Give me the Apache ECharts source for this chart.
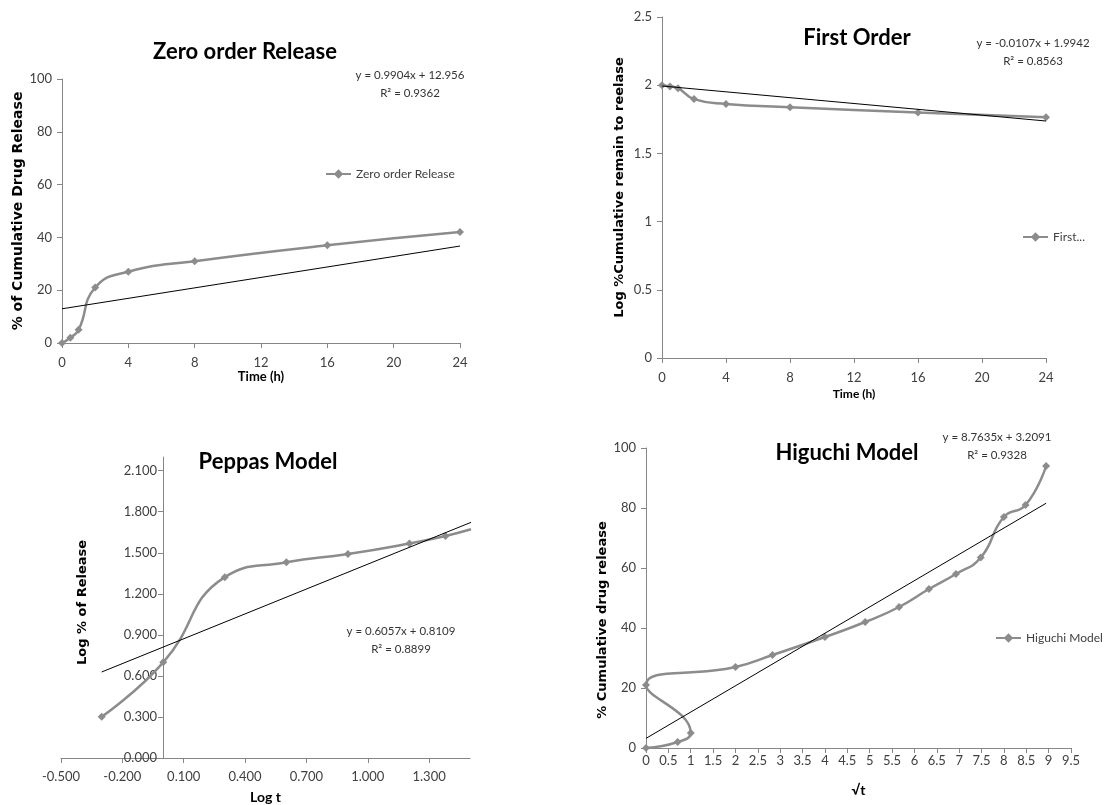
<!DOCTYPE html>
<html>
<head>
<meta charset="utf-8">
<script src="https://cdn.jsdelivr.net/npm/echarts@6/dist/echarts.min.js"></script>
<style>
html,body{margin:0;padding:0;background:#fff;}
#chart{width:1109px;height:805px;}
</style>
</head>
<body>
<div id="chart"></div>
<script>
// ---- Zero order release ----
const zeroTime = [0, 0.5, 1, 2, 4, 8, 16, 24];
const zeroRelease = [0, 2, 5, 21, 27, 31, 37, 42];
const zeroTrendX = [0, 24];
const zeroTrendY = [12.956, 36.726];
const zeroEq = ['y = 0.9904x + 12.956', 'R² = 0.9362'];

// ---- First order ----
const firstTime = [0, 0.5, 1, 2, 4, 8, 16, 24];
const firstLogRemain = [2.0, 1.991, 1.978, 1.898, 1.863, 1.839, 1.799, 1.765];
const firstTrendX = [0, 24];
const firstTrendY = [1.9942, 1.7374];
const firstEq = ['y = -0.0107x + 1.9942', 'R² = 0.8563'];

// ---- Peppas model ----
const peppasLogT = [-0.301, 0, 0.301, 0.602, 0.903, 1.204, 1.380, 1.505];
const peppasLogRelease = [0.301, 0.699, 1.322, 1.431, 1.491, 1.568, 1.623, 1.672];
const peppasTrendX = [-0.301, 1.505];
const peppasTrendY = [0.6286, 1.7225];
const peppasXTicks = [-0.5, -0.2, 0.1, 0.4, 0.7, 1.0, 1.3];
const peppasYTicks = [0, 0.3, 0.6, 0.9, 1.2, 1.5, 1.8, 2.1];
const peppasEq = ['y = 0.6057x + 0.8109', 'R² = 0.8899'];

// ---- Higuchi model ----
const higuchiSqrtT = [0, 0.707, 1, 0, 2, 2.828, 4, 4.899, 5.657, 6.325, 6.928, 7.483, 8, 8.485, 8.944];
const higuchiRelease = [0, 2, 5, 21, 27, 31, 37, 42, 47, 53, 58, 63.5, 77, 81, 94];
const higuchiTrendX = [0, 8.944];
const higuchiTrendY = [3.209, 81.59];
const higuchiEq = ['y = 8.7635x + 3.2091', 'R² = 0.9328'];

const FONT = 'Lato, "Open Sans", sans-serif';
const NAMEFONT = '"DejaVu Sans", Verdana, sans-serif';
const GREY = '#8c8c8c';
const AXIS = '#868686';
const LABEL = '#404040';

function pairs(xs, ys){ return xs.map((x,i)=>[x, ys[i]]); }

function label(extra){
  return Object.assign({color:LABEL, fontSize:13, fontFamily:FONT, margin:10}, extra);
}
function nameStyle(size, extra){
  return Object.assign({fontFamily:NAMEFONT, fontWeight:'bold', fontSize:size, color:'#000'}, extra);
}
function xNameStyle(size){
  return {fontFamily:FONT, fontWeight:'bold', fontSize:size, color:'#000'};
}
function axisBase(extra){
  return Object.assign({
    type: 'value',
    splitLine: {show:false},
    axisLine: {show:true, onZero:false, lineStyle:{color:AXIS, width:1}},
    axisTick: {show:true, length:5, lineStyle:{color:AXIS}},
    axisLabel: label({}),
    nameLocation: 'middle'
  }, extra);
}

function mainSeries(name, idx, data){
  return {
    name: name, type:'line', xAxisIndex: idx, yAxisIndex: idx,
    data: data, smooth: 0.5, symbol:'diamond', symbolSize:8,
    lineStyle:{color:GREY, width:2.5}, itemStyle:{color:GREY},
    clip: true, z: 2
  };
}
function trendSeries(idx, data){
  return {
    name: 'trend' + idx, type:'line', xAxisIndex: idx, yAxisIndex: idx,
    data: data, symbol:'none', lineStyle:{color:'#000', width:1},
    itemStyle:{color:'#000'}, clip:true, z: 3, silent:true
  };
}
function txt(x, y, s, size, bold){
  return {type:'text', x:x, y:y, silent:true,
    style:{text:s, fontFamily:FONT, fontSize:size, fontWeight: bold ? 'bold':'normal',
      fill: bold ? '#000' : '#333', align:'center', verticalAlign:'middle'}};
}

const chart = echarts.init(document.getElementById('chart'));
chart.setOption({
  animation: false,
  backgroundColor: '#fff',
  grid: [
    {left:62, top:79, width:398, height:264, outerBoundsMode:'none', containLabel:false},
    {left:662, top:17, width:384, height:341, outerBoundsMode:'none', containLabel:false},
    {left:61, top:457, width:409, height:301, outerBoundsMode:'none', containLabel:false},
    {left:646, top:448, width:425, height:300, outerBoundsMode:'none', containLabel:false}
  ],
  xAxis: [
    axisBase({gridIndex:0, min:0, max:24, interval:4, name:'Time (h)', nameGap:27,
      axisLabel: label({margin:13}), nameTextStyle: xNameStyle(13)}),
    axisBase({gridIndex:1, min:0, max:24, interval:4, name:'Time (h)', nameGap:30,
      axisLabel: label({margin:13}), nameTextStyle: xNameStyle(12)}),
    axisBase({gridIndex:2, min:-0.5, max:1.5, name:'Log t', nameGap:32,
      axisTick:{show:true, length:5, lineStyle:{color:AXIS}, customValues: peppasXTicks},
      axisLabel: label({margin:12, customValues: peppasXTicks, formatter: v => v.toFixed(3)}),
      nameTextStyle: xNameStyle(14)}),
    axisBase({gridIndex:3, min:0, max:9.5, interval:0.5, name:'√t', nameGap:35,
      axisLabel: label({margin:6}), nameTextStyle: xNameStyle(14)})
  ],
  yAxis: [
    axisBase({gridIndex:0, min:0, max:100, interval:20, name:'% of Cumulative Drug Release', nameGap:35,
      nameTextStyle: nameStyle(14)}),
    axisBase({gridIndex:1, min:0, max:2.5, interval:0.5, name:'Log %Cumulative remain to reelase', nameGap:36,
      nameTextStyle: nameStyle(13)}),
    axisBase({gridIndex:2, min:0, max:2.2, name:'Log % of Release', nameGap:74, offset:-102,
      axisTick:{show:true, length:5, lineStyle:{color:AXIS}, customValues: peppasYTicks},
      axisLabel: label({margin:6, customValues: peppasYTicks, formatter: v => v.toFixed(3)}),
      nameTextStyle: nameStyle(13, {padding:[0,0,0,10]})}),
    axisBase({gridIndex:3, min:0, max:100, interval:20, name:'% Cumulative drug release', nameGap:36,
      nameTextStyle: nameStyle(13, {padding:[0,44,0,0]})})
  ],
  legend: [
    {data:['Zero order Release'], left:325, top:168, padding:0, itemWidth:25, itemHeight:12, itemGap:4,
      textStyle:{fontFamily:FONT, fontSize:12, color:LABEL}, selectedMode:false},
    {data:['First Order'], left:1022, top:231, padding:0, itemWidth:25, itemHeight:12, itemGap:4,
      formatter: () => 'First...', textStyle:{fontFamily:FONT, fontSize:12, color:LABEL}, selectedMode:false},
    {data:['Higuchi Model'], left:995, top:632, padding:0, itemWidth:25, itemHeight:12, itemGap:4,
      textStyle:{fontFamily:FONT, fontSize:12, color:LABEL}, selectedMode:false}
  ],
  series: [
    mainSeries('Zero order Release', 0, pairs(zeroTime, zeroRelease)),
    trendSeries(0, pairs(zeroTrendX, zeroTrendY)),
    mainSeries('First Order', 1, pairs(firstTime, firstLogRemain)),
    trendSeries(1, pairs(firstTrendX, firstTrendY)),
    mainSeries('Peppas Model', 2, pairs(peppasLogT, peppasLogRelease)),
    trendSeries(2, pairs(peppasTrendX, peppasTrendY)),
    mainSeries('Higuchi Model', 3, pairs(higuchiSqrtT, higuchiRelease)),
    trendSeries(3, pairs(higuchiTrendX, higuchiTrendY))
  ],
  graphic: [
    txt(245, 52, 'Zero order Release', 22, true),
    txt(857, 38, 'First Order', 22, true),
    txt(268, 462, 'Peppas Model', 22, true),
    txt(847, 453, 'Higuchi Model', 22, true),
    txt(410, 75, zeroEq[0], 11.5), txt(410, 93, zeroEq[1], 11.5),
    txt(1033, 43, firstEq[0], 11.5), txt(1033, 61, firstEq[1], 11.5),
    txt(401, 631, peppasEq[0], 11.5), txt(401, 649, peppasEq[1], 11.5),
    txt(997, 437, higuchiEq[0], 11.5), txt(997, 455, higuchiEq[1], 11.5)
  ]
});
</script>
</body>
</html>
